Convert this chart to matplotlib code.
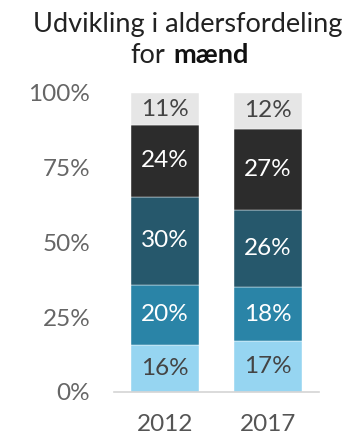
import matplotlib.pyplot as plt
from matplotlib.offsetbox import TextArea, HPacker, AnchoredOffsetbox
import numpy as np

# data
aar = ['2012', '2017']
aldersgrupper = ['g1', 'g2', 'g3', 'g4', 'g5']  # bund -> top
vaerdier_2012 = [16, 20, 30, 24, 11]
vaerdier_2017 = [17, 18, 26, 27, 12]
farver = ['#96d5f1', '#2a84a7', '#26586c', '#2c2c2c', '#e6e6e6']
tekstfarver = ['#444444', 'white', 'white', 'white', '#444444']

plt.rcParams['font.family'] = ['Lato', 'DejaVu Sans']

fig = plt.figure(figsize=(3.63, 4.36), dpi=100)
ax = fig.add_axes([0.314, 0.101, 0.565, 0.686])

data = np.array([vaerdier_2012, vaerdier_2017], dtype=float)
andel = data / data.sum(axis=1, keepdims=True) * 100  # stablet til 100%
x = np.arange(len(aar))
bund = np.zeros(len(aar))
for i in range(len(aldersgrupper)):
    ax.bar(x, andel[:, i], bottom=bund, width=0.66, color=farver[i],
           edgecolor='white', linewidth=0.3)
    for j in range(len(aar)):
        ax.text(x[j], bund[j] + andel[j, i] / 2, f'{int(data[j, i])}%',
                ha='center', va='center', fontsize=17.5,
                color=tekstfarver[i])
    bund += andel[:, i]

ax.set_xlim(-0.495, 1.495)
ax.set_ylim(0, 100)
ax.set_yticks([0, 25, 50, 75, 100])
ax.set_yticklabels(['0%', '25%', '50%', '75%', '100%'])
ax.set_xticks(x)
ax.set_xticklabels(aar)
ax.tick_params(axis='y', length=0, pad=17, labelsize=17.5, labelcolor='#666666')
ax.tick_params(axis='x', length=0, pad=16, labelsize=17.5, labelcolor='#555555')
for s in ['top', 'right', 'left']:
    ax.spines[s].set_visible(False)
ax.spines['bottom'].set_color('#d4d4d4')
ax.spines['bottom'].set_linewidth(1.2)

# titel
fig.text(0.517, 0.943, 'Udvikling i aldersfordeling', ha='center', va='center',
         fontsize=19.5, color='#222222')
linje2 = HPacker(children=[
    TextArea('for', textprops=dict(fontsize=19.5, color='#222222')),
    TextArea('mænd', textprops=dict(fontsize=19.5, fontweight='bold', color='#111111')),
], align='baseline', pad=0, sep=6)
boks = AnchoredOffsetbox(loc='center', child=linje2, frameon=False,
                         bbox_to_anchor=(0.522, 0.872), bbox_transform=fig.transFigure,
                         borderpad=0, pad=0)
fig.add_artist(boks)

fig.savefig('out.png', dpi=100)
